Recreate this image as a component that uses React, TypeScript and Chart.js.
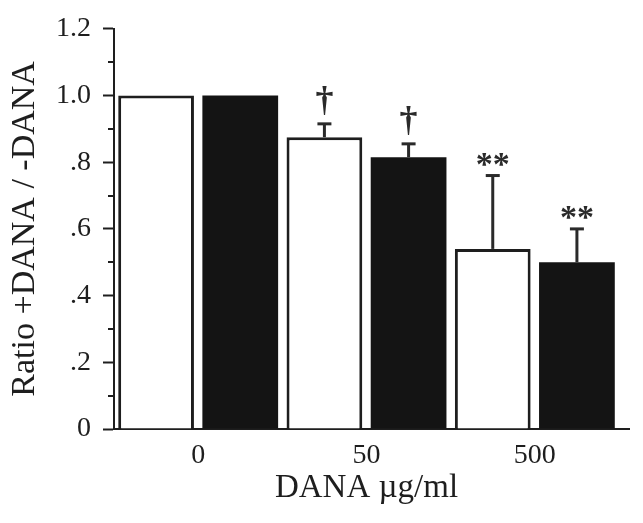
import React, { useEffect, useRef } from 'react';
import { Chart, registerables } from 'chart.js';

Chart.register(...registerables);

// ---- data ----
const categories = ['0', '50', '500'];
const openValues = [1.0, 0.875, 0.54];
const openErrors = [0, 0.04, 0.22];
const openMarks = ['', '†', '**'];
const filledValues = [1.0, 0.815, 0.5];
const filledErrors = [0, 0.04, 0.1];
const filledMarks = ['', '†', '**'];
const yTickLabels = ['0', '.2', '.4', '.6', '.8', '1.0', '1.2'];
const yTitle = 'Ratio +DANA / -DANA';
const xTitle = 'DANA µg/ml';

const errorsBySeries = [openErrors, filledErrors];
const marksBySeries = [openMarks, filledMarks];

const SERIF = '"Liberation Serif", "Times New Roman", serif';
const INK = '#1e1e1e';

const decorPlugin = {
  id: 'decor',
  afterDatasetsDraw(chart: any) {
    const ctx = chart.ctx;
    const y = chart.scales.y;
    const area = chart.chartArea;
    ctx.save();
    // minor ticks (odd tenths)
    ctx.strokeStyle = INK;
    ctx.lineWidth = 2;
    y.ticks.forEach((t: any, i: number) => {
      if (i % 2 === 1) {
        const py = Math.round(y.getPixelForValue(t.value));
        ctx.beginPath();
        ctx.moveTo(area.left - 6, py);
        ctx.lineTo(area.left, py);
        ctx.stroke();
      }
    });
    // x-axis overhang on the right
    ctx.beginPath();
    ctx.moveTo(area.right, area.bottom);
    ctx.lineTo(area.right + 11, area.bottom);
    ctx.stroke();

    // error bars and significance marks
    chart.data.datasets.forEach((ds: any, di: number) => {
      const meta = chart.getDatasetMeta(di);
      const errs = errorsBySeries[di];
      const marks = marksBySeries[di];
      meta.data.forEach((el: any, j: number) => {
        const err = errs[j];
        if (!err) return;
        const top = y.getPixelForValue(ds.data[j] + err);
        ctx.strokeStyle = '#2a2a2a';
        ctx.lineWidth = 3;
        ctx.beginPath();
        ctx.moveTo(el.x, el.y);
        ctx.lineTo(el.x, top);
        ctx.stroke();
        ctx.beginPath();
        ctx.moveTo(el.x - 7, top);
        ctx.lineTo(el.x + 7, top);
        ctx.stroke();
        const m = marks[j];
        if (m) {
          ctx.fillStyle = '#2a2a2a';
          ctx.textAlign = 'center';
          ctx.textBaseline = 'alphabetic';
          if (m === '†') {
            ctx.font = `bold 36px ${SERIF}`;
            ctx.fillText(m, el.x, top - 13);
          } else {
            ctx.font = `bold 34px ${SERIF}`;
            ctx.fillText(m, el.x, top - 1);
          }
        }
      });
    });
    ctx.restore();
  },
};

export default function App() {
  const canvasRef = useRef<HTMLCanvasElement | null>(null);

  useEffect(() => {
    const canvas = canvasRef.current;
    if (!canvas) return;
    const chart = new Chart(canvas, {
      type: 'bar',
      data: {
        labels: categories,
        datasets: [
          {
            label: 'open',
            data: openValues,
            backgroundColor: '#ffffff',
            borderColor: INK,
            borderWidth: 3,
            borderSkipped: 'start',
          },
          {
            label: 'filled',
            data: filledValues,
            backgroundColor: '#141414',
            borderColor: '#141414',
            borderWidth: 0,
          },
        ],
      },
      options: {
        responsive: false,
        animation: false,
        devicePixelRatio: 1,
        layout: { padding: { top: 25, right: 24, left: 0, bottom: 0 } },
        plugins: {
          legend: { display: false },
          tooltip: { enabled: false },
        },
        datasets: {
          bar: { categoryPercentage: 1.0, barPercentage: 0.9 },
        },
        scales: {
          x: {
            grid: { display: false },
            border: { display: true, color: INK, width: 2 },
            ticks: {
              color: INK,
              font: { family: SERIF, size: 28 },
              padding: 2,
            },
            title: {
              display: true,
              text: xTitle,
              color: INK,
              font: { family: SERIF, size: 33 },
              padding: { top: 0, bottom: 15 },
            },
            afterFit: (s: any) => {
              s.height = 94;
            },
          },
          y: {
            min: 0,
            max: 1.2,
            grid: {
              display: true,
              drawOnChartArea: false,
              drawTicks: true,
              tickLength: 11,
              tickWidth: 2,
              tickColor: (c: any) => (c.index % 2 === 0 ? INK : 'rgba(0,0,0,0)'),
            },
            border: { display: true, color: INK, width: 2 },
            ticks: {
              stepSize: 0.1,
              autoSkip: false,
              color: INK,
              font: { family: SERIF, size: 28 },
              padding: 12,
              callback: (_v: any, i: number) => (i % 2 === 0 ? yTickLabels[i / 2] : ''),
            },
            title: {
              display: true,
              text: yTitle,
              color: INK,
              font: { family: SERIF, size: 34 },
              padding: { top: 5, bottom: 0 },
            },
            afterFit: (s: any) => {
              s.width = 114;
            },
          },
        },
      },
      plugins: [decorPlugin],
    });
    return () => chart.destroy();
  }, []);

  return (
    <div style={{ position: 'fixed', left: 0, top: 0, width: 643, height: 523, background: '#fff' }}>
      <canvas ref={canvasRef} width={643} height={523} style={{ display: 'block' }} />
    </div>
  );
}
